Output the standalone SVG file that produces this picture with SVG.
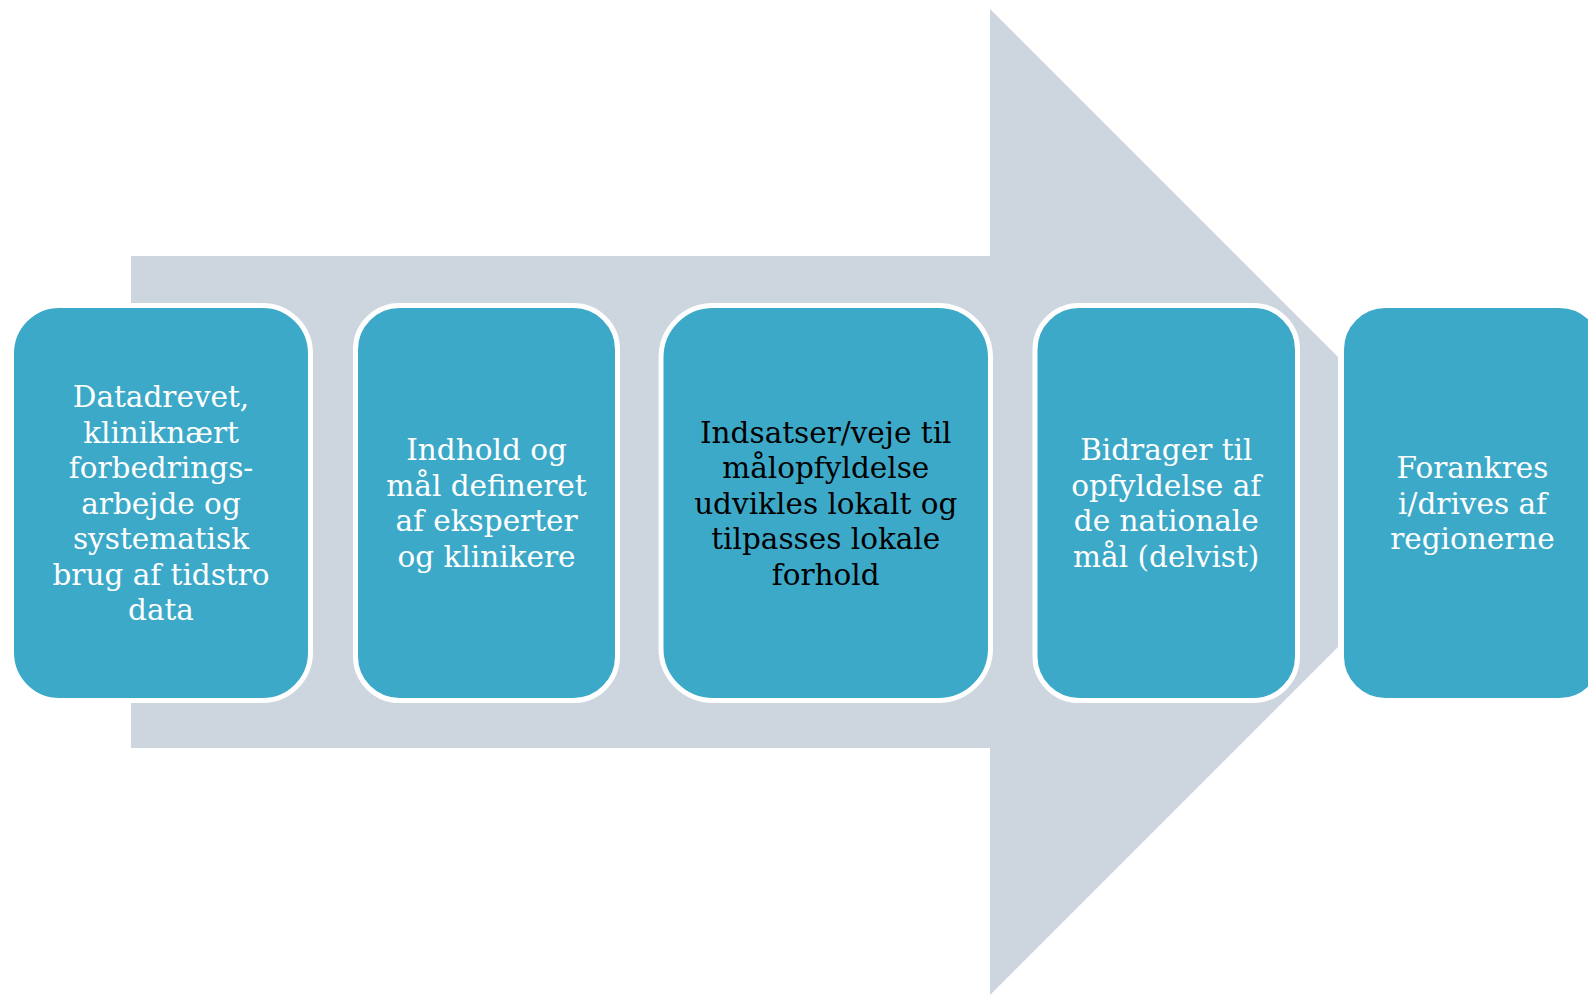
<svg xmlns="http://www.w3.org/2000/svg" width="1588" height="995" viewBox="0 0 1588 995">
<style>
.box{fill:#3DA9C8;stroke:#FFFFFF;stroke-width:5}
.t{font-family:"DejaVu Serif","Liberation Serif",serif;font-size:29.5px;text-anchor:middle}
.w{fill:#FFFFFF}
.k{fill:#000000}
</style>
<rect width="1588" height="995" fill="#FFFFFF"/>
<g id="connectors">
<polygon id="arrow" points="131,256 990,256 990,9 1338,357 1338,647 990,995 990,748 131,748" fill="#CDD5DF"/>
</g>
<g id="node1">
<rect class="box" x="11.5" y="305.5" width="299" height="395" rx="48" ry="48"/>
<text class="t w" x="161"><tspan x="161" y="407">Datadrevet,</tspan><tspan x="161" y="442.5">kliniknært</tspan><tspan x="161" y="478">forbedrings-</tspan><tspan x="161" y="513.5">arbejde og</tspan><tspan x="161" y="549">systematisk</tspan><tspan x="161" y="584.5">brug af tidstro</tspan><tspan x="161" y="620">data</tspan></text>
</g>
<g id="node2">
<rect class="box" x="355.5" y="305.5" width="262" height="395" rx="44" ry="44"/>
<text class="t w"><tspan x="486.5" y="460">Indhold og</tspan><tspan x="486.5" y="495.5">mål defineret</tspan><tspan x="486.5" y="531">af eksperter</tspan><tspan x="486.5" y="566.5">og klinikere</tspan></text>
</g>
<g id="node3">
<rect class="box" x="661" y="305.5" width="329.5" height="395" rx="52" ry="52"/>
<text class="t k"><tspan x="825.75" y="442.5">Indsatser/veje til</tspan><tspan x="825.75" y="478">målopfyldelse</tspan><tspan x="825.75" y="513.5">udvikles lokalt og</tspan><tspan x="825.75" y="549">tilpasses lokale</tspan><tspan x="825.75" y="584.5">forhold</tspan></text>
</g>
<g id="node4">
<rect class="box" x="1035" y="305.5" width="262.5" height="395" rx="44" ry="44"/>
<text class="t w"><tspan x="1166.25" y="460">Bidrager til</tspan><tspan x="1166.25" y="495.5">opfyldelse af</tspan><tspan x="1166.25" y="531">de nationale</tspan><tspan x="1166.25" y="566.5">mål (delvist)</tspan></text>
</g>
<g id="node5">
<rect class="box" x="1341.5" y="305.5" width="262" height="395" rx="44" ry="44"/>
<text class="t w"><tspan x="1472.5" y="478">Forankres</tspan><tspan x="1472.5" y="513.5">i/drives af</tspan><tspan x="1472.5" y="549">regionerne</tspan></text>
</g>
</svg>
